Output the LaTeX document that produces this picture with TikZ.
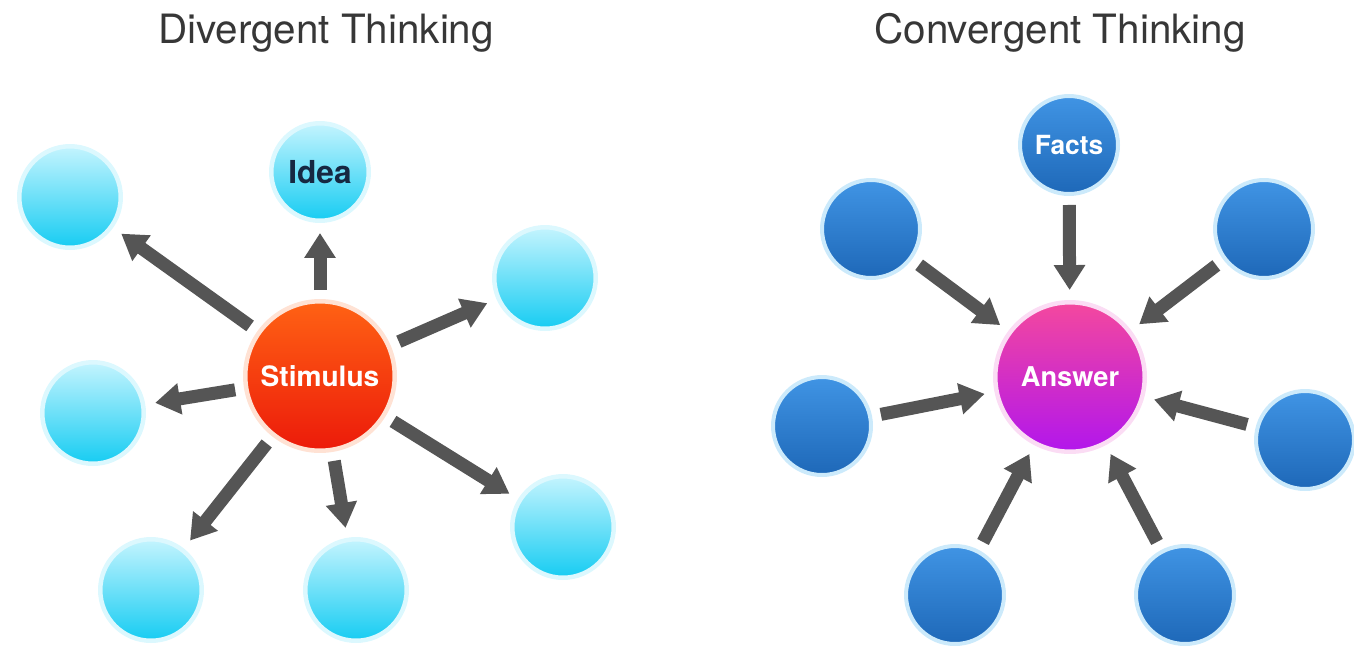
\documentclass[tikz,border=0pt]{standalone}
\usepackage{fontspec}
\setmainfont{TeX Gyre Heros}
\usepackage{tikz}
\usetikzlibrary{shapes,arrows.meta}
\definecolor{dt_cyan_top}{RGB}{196, 244, 254}
\definecolor{dt_cyan_bot}{RGB}{22, 204, 242}
\definecolor{dt_cyan_halo}{RGB}{220, 248, 254}
\definecolor{ct_blue_top}{RGB}{64, 148, 228}
\definecolor{ct_blue_bot}{RGB}{30, 104, 184}
\definecolor{ct_blue_halo}{RGB}{204, 234, 251}
\definecolor{st_top}{RGB}{255, 98, 20}
\definecolor{st_bot}{RGB}{236, 26, 10}
\definecolor{st_halo}{RGB}{255, 226, 212}
\definecolor{an_top}{RGB}{244, 72, 158}
\definecolor{an_bot}{RGB}{178, 22, 236}
\definecolor{an_halo}{RGB}{251, 220, 244}
\definecolor{arrow_grey}{RGB}{85, 85, 85}
\definecolor{title_grey}{RGB}{55, 55, 55}
\definecolor{idea_navy}{RGB}{22, 40, 66}
\tikzstyle{cn}=[circle,top color=dt_cyan_top,bottom color=dt_cyan_bot,draw=dt_cyan_halo,
  line width=0.09cm,inner sep=0pt,minimum size=2.03cm]
\tikzstyle{bn}=[circle,top color=ct_blue_top,bottom color=ct_blue_bot,draw=ct_blue_halo,
  line width=0.08cm,inner sep=0pt,minimum size=1.96cm,text=white,
  font=\fontsize{15}{18}\selectfont\bfseries]
\tikzstyle{sn}=[circle,top color=st_top,bottom color=st_bot,draw=st_halo,
  line width=0.09cm,inner sep=0pt,minimum size=2.99cm,text=white,
  font=\fontsize{16}{19}\selectfont\bfseries]
\tikzstyle{an}=[circle,top color=an_top,bottom color=an_bot,draw=an_halo,
  line width=0.09cm,inner sep=0pt,minimum size=2.99cm,text=white,
  font=\fontsize{15.5}{19}\selectfont\bfseries]
\tikzstyle{tn}=[anchor=base,text=title_grey,font=\fontsize{23}{27}\selectfont]
\tikzstyle{arr}=[draw=arrow_grey,line width=0.26cm,
  -{Triangle[width=0.6cm,length=0.5cm]},shorten <=0.18cm,shorten >=0.2cm]

\begin{document}
\begin{tikzpicture}[x=0.02cm,y=-0.02cm]
    \useasboundingbox (0,0) rectangle (1354,653);
    % divergent
    \node [style=tn] (divtitle) at (326,43) {Divergent Thinking};
    \node [style=sn] (stimulus) at (320,376) {Stimulus};
    \node [style=cn,text=idea_navy,minimum size=1.95cm,
      font=\fontsize{18}{21}\selectfont\bfseries] (idea) at (320,172) {Idea};
    \node [style=cn] (topleft) at (70,197) {};
    \node [style=cn] (upright) at (545,278) {};
    \node [style=cn] (midleft) at (93,413) {};
    \node [style=cn] (lowright) at (563,527) {};
    \node [style=cn] (botleft) at (151,590) {};
    \node [style=cn] (botmid) at (356,590) {};
    \foreach \n in {idea,topleft,upright,midleft,lowright,botleft,botmid}
      \draw [style=arr] (stimulus) to (\n);
    % convergent
    \node [style=tn] (contitle) at (1060,43) {Convergent Thinking};
    \node [style=an] (answer) at (1070,377) {Answer};
    \node [style=bn] (facts) at (1069,145) {Facts};
    \node [style=bn] (ctopleft) at (871,229) {};
    \node [style=bn] (ctopright) at (1264,229) {};
    \node [style=bn] (cmidleft) at (822,426) {};
    \node [style=bn] (cmidright) at (1305,440) {};
    \node [style=bn] (cbotleft) at (955,595) {};
    \node [style=bn] (cbotright) at (1185,595) {};
    \foreach \n in {facts,ctopleft,ctopright,cmidleft,cmidright,cbotleft,cbotright}
      \draw [style=arr] (\n) to (answer);
\end{tikzpicture}
\end{document}
